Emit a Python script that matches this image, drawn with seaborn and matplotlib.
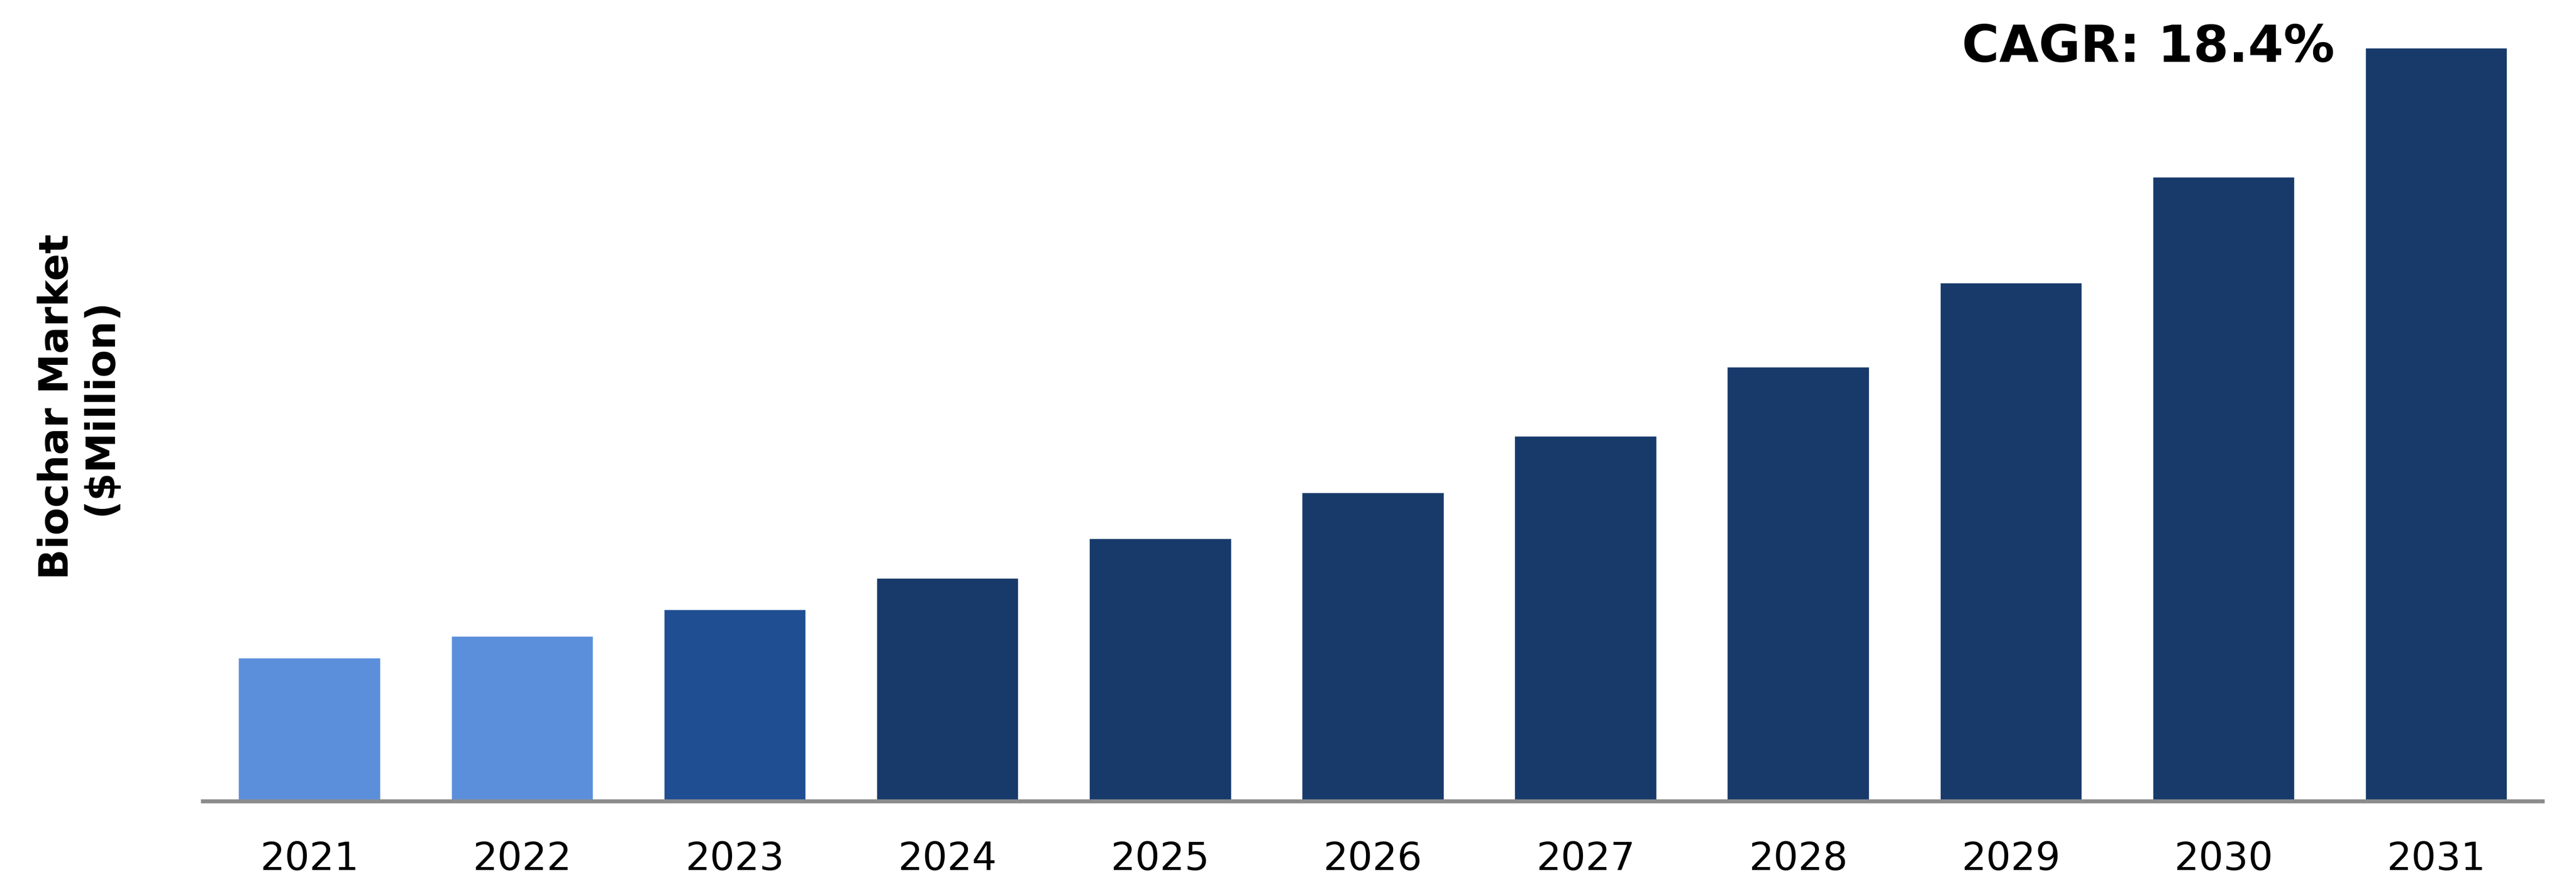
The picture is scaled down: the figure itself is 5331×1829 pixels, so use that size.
import matplotlib
matplotlib.use("Agg")
import matplotlib.pyplot as plt
import seaborn as sns
import pandas as pd

years = ["2021", "2022", "2023", "2024", "2025", "2026", "2027", "2028", "2029", "2030", "2031"]
market_value = [87, 100, 116, 135, 159, 187, 221, 263, 314, 378, 456]
bar_colors = ["#5B8FDB", "#5B8FDB", "#1F4E93", "#173A6B", "#173A6B", "#173A6B",
              "#173A6B", "#173A6B", "#173A6B", "#173A6B", "#173A6B"]
y_label = "Biochar Market\n($Million)"
cagr_text = "CAGR: 18.4%"

df = pd.DataFrame({"year": years, "value": market_value})

sns.set_theme(style="white")
plt.rcParams["font.family"] = ["DejaVu Sans"]

fig = plt.figure(figsize=(53.31, 18.29), dpi=100)
ax = fig.add_axes([0.0788, 0.0935, 0.9082, 0.9065])

sns.barplot(data=df, x="year", y="value", hue="year", palette=bar_colors,
            order=years, hue_order=years, width=0.667, legend=False,
            saturation=1.0, ax=ax)

ax.set_xlim(-0.5, 10.5)
ax.set_ylim(0, 485)
ax.set_yticks([])
ax.set_xlabel("")
ax.set_ylabel("")
for s in ["top", "right", "left"]:
    ax.spines[s].set_visible(False)
ax.spines["bottom"].set_color("#8C8C8C")
ax.spines["bottom"].set_linewidth(6)
ax.tick_params(axis="x", length=0, pad=58, labelsize=58, colors="black")

fig.text(0.0305, 0.54, y_label, rotation=90, ha="center", va="center",
         fontsize=60, fontweight="bold", color="black", linespacing=1.15)
fig.text(0.7615, 0.946, cagr_text, ha="left", va="center",
         fontsize=76, fontweight="bold", color="black")

fig.savefig("out.png", dpi=100)
